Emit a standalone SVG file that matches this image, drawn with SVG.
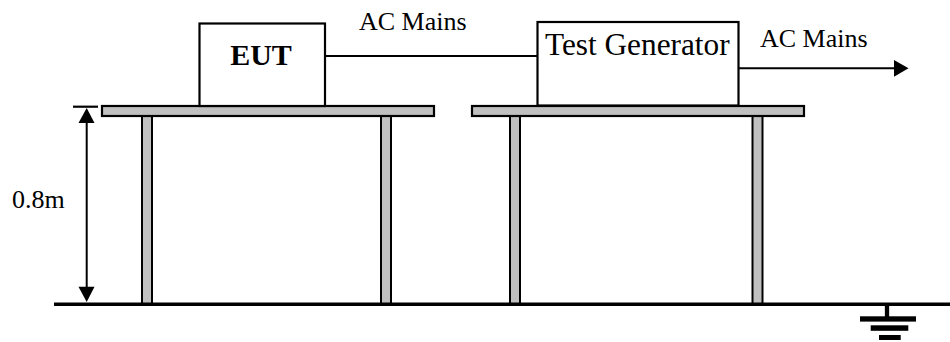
<svg xmlns="http://www.w3.org/2000/svg" width="950" height="342" viewBox="0 0 950 342">
<style>
.box{fill:#fff;stroke:#000;stroke-width:2.2}
.top{fill:#c0c0c0;stroke:#000;stroke-width:2.2}
.leg{fill:#c0c0c0;stroke:#000;stroke-width:2}
.wire{stroke:#000;stroke-width:2;fill:none}
.t{font-family:"Liberation Serif","Times New Roman",serif;fill:#000}
</style>
<rect width="950" height="342" fill="#fff"/>
<g id="table1">
<rect class="leg" x="142" y="116" width="10" height="188"/>
<rect class="leg" x="381" y="116" width="10" height="188"/>
<rect class="top" x="102" y="106" width="332" height="10"/>
</g>
<g id="table2">
<rect class="leg" x="510" y="116" width="10" height="188"/>
<rect class="leg" x="752.5" y="116" width="10" height="188"/>
<rect class="top" x="472" y="106" width="332" height="10"/>
</g>
<g id="eut">
<rect class="box" x="199.5" y="23.5" width="125.5" height="82.5"/>
<text class="t" x="261" y="65" font-size="30" font-weight="bold" text-anchor="middle">EUT</text>
</g>
<g id="test-generator">
<rect class="box" x="537.5" y="22" width="201" height="83.5"/>
<text class="t" x="545" y="55" font-size="31.3">Test Generator</text>
</g>
<g id="ground-plane">
<line x1="54" y1="304.3" x2="950" y2="304.3" stroke="#000" stroke-width="3.5"/>
</g>
<g id="earth">
<line x1="887" y1="304" x2="887" y2="317" stroke="#000" stroke-width="4.3"/>
<rect x="860" y="316.3" width="56" height="5.3" fill="#000"/>
<rect x="870.7" y="325.3" width="37.6" height="5.5" fill="#000"/>
<rect x="879" y="335" width="21.7" height="5" fill="#000"/>
</g>
<g id="connectors">
<line class="wire" x1="325" y1="56" x2="537.5" y2="56"/>
<line class="wire" x1="738.5" y1="68.3" x2="895" y2="68.3"/>
<polygon points="894,60 908.5,68.3 894,76.7" fill="#000"/>
<line x1="73" y1="106.7" x2="98" y2="106.7" stroke="#000" stroke-width="2.2"/>
<line class="wire" x1="86.7" y1="120" x2="86.7" y2="290"/>
<polygon points="86.7,108 94.5,123 78.5,123" fill="#000"/>
<polygon points="86.7,302 94.5,286.7 78.5,286.7" fill="#000"/>
</g>
<g id="labels">
<text class="t" x="359" y="30" font-size="26">AC Mains</text>
<text class="t" x="760" y="46.7" font-size="26">AC Mains</text>
<text class="t" x="12" y="208.3" font-size="26">0.8m</text>
</g>
</svg>
